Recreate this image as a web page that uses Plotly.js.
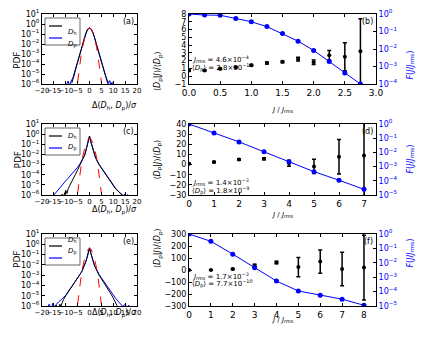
<!DOCTYPE html>
<html>
<head>
<meta charset="utf-8">
<script src="https://cdn.plot.ly/plotly-3.0.1.min.js"></script>
<style>
  html, body { margin: 0; padding: 0; background: #fff; }
  #fig { width: 424px; height: 339px; }
</style>
</head>
<body>
<div id="fig"></div>
<script>
// ---- PDF panels (a), (c), (e) ----
var gaussX = [-5, -4.5, -4, -3.5, -3, -2.5, -2, -1.5, -1, -0.5, 0, 0.5, 1, 1.5, 2, 2.5, 3, 3.5, 4, 4.5, 5];
var gaussY = [1.5e-6, 1.6e-5, 1.3e-4, 8.7e-4, 4.4e-3, 1.75e-2, 5.4e-2, 0.13, 0.242, 0.352, 0.399,
              0.352, 0.242, 0.13, 5.4e-2, 1.75e-2, 4.4e-3, 8.7e-4, 1.3e-4, 1.6e-5, 1.5e-6];

var aHx = [-7.5, -7, -6.5, -6, -5.5, -5, -4.5, -4, -3.5, -3, -2.5, -2, -1.5, -1, -0.5, 0,
           0.5, 1, 1.5, 2, 2.5, 3, 3.5, 4, 4.5, 5, 5.5, 6, 6.5, 7, 7.5, 8];
var aHy = [1.2e-6, 2.6e-6, 7e-6, 2.1e-5, 6e-5, 1.6e-4, 4.2e-4, 1.0e-3, 2.6e-3, 7e-3, 2.0e-2, 5.5e-2, 0.13, 0.24, 0.35, 0.39,
           0.35, 0.24, 0.13, 5.5e-2, 2.0e-2, 7.5e-3, 2.8e-3, 1.1e-3, 4.5e-4, 1.8e-4, 7e-5, 2.5e-5, 9e-6, 3.5e-6, 1.6e-6, 9e-7];
var aPx = [-10, -9.5, -9, -8.5, -8, -7.5, -7, -6.5, -6, -5.5, -5, -4.5, -4, -3.5, -3, -2.5, -2, -1.5, -1, -0.5, 0,
           0.5, 1, 1.5, 2, 2.5, 3, 3.5, 4, 4.5, 5, 5.5, 6, 6.5, 7, 7.5, 8, 8.5, 9, 9.5, 10];
var aPy = [6e-7, 1.3e-6, 2e-6, 7e-7, 1.6e-6, 2.5e-6, 4e-6, 9e-6, 2.4e-5, 6.5e-5, 1.7e-4, 4.4e-4, 1.05e-3, 2.7e-3, 7.2e-3, 2.0e-2, 5.5e-2, 0.13, 0.24, 0.35, 0.39,
           0.35, 0.24, 0.13, 5.5e-2, 2.0e-2, 7.6e-3, 2.9e-3, 1.15e-3, 4.7e-4, 1.9e-4, 7.5e-5, 2.8e-5, 1.1e-5, 4.5e-6, 2e-6, 1.2e-6, 2.2e-6, 8e-7, 1.5e-6, 9e-7];

var cHx = [-12, -11.5, -11, -10.5, -10, -9.5, -9, -8, -7, -6, -5, -4, -3.5, -3, -2.5, -2, -1.5, -1, -0.5, 0,
           0.5, 1, 1.5, 2, 2.5, 3, 3.5, 4, 5, 6, 7, 8, 9, 10, 11, 12, 13, 14, 15, 16, 17, 18];
var cHy = [5e-7, 1.2e-6, 6e-7, 1.5e-6, 3e-6, 1.4e-6, 4e-6, 1.2e-5, 3e-5, 1e-4, 3e-4, 9e-4, 1.5e-3, 2.5e-3, 4.5e-3, 9e-3, 2.5e-2, 7e-2, 0.2, 0.65,
           0.2, 7e-2, 2.5e-2, 9e-3, 5e-3, 2.8e-3, 1.6e-3, 1e-3, 4.5e-4, 2e-4, 9e-5, 4e-5, 1.8e-5, 8e-6, 4e-6, 2.5e-6, 1.5e-6, 8e-7, 1.2e-6, 5e-7, 1e-6, 4e-7];
var cPx = [-17.5, -17, -16.5, -16, -15, -14, -13, -12, -11, -10, -9, -8, -7, -6, -5, -4, -3, -2.5, -2, -1.5, -1, -0.5, 0,
           0.5, 1, 1.5, 2, 2.5, 3, 3.5, 4, 5, 6, 7, 8, 9, 10, 11, 12, 13, 14, 15, 16, 17, 18, 19];
var cPy = [4e-7, 1e-6, 4e-7, 5e-7, 1e-6, 2e-6, 4e-6, 7e-6, 1.4e-5, 2.5e-5, 4.5e-5, 8e-5, 1.4e-4, 2.6e-4, 5.5e-4, 1.2e-3, 3e-3, 5e-3, 9e-3, 2.5e-2, 7e-2, 0.2, 0.65,
           0.2, 7e-2, 2.5e-2, 9e-3, 5.2e-3, 3e-3, 1.7e-3, 1.1e-3, 5e-4, 2.2e-4, 1e-4, 4.5e-5, 2e-5, 9e-6, 4.5e-6, 2.5e-6, 1.5e-6, 1e-6, 6e-7, 1.1e-6, 5e-7, 8e-7, 4e-7];

var eHx = [-15, -14, -13, -12.5, -12, -11.5, -11, -10, -9, -8, -7, -6, -5, -4, -3.5, -3, -2.5, -2, -1.5, -1, -0.5, 0,
           0.5, 1, 1.5, 2, 2.5, 3, 3.5, 4, 5, 6, 7, 8, 9, 10, 11, 11.5, 12];
var eHy = [5e-7, 1.2e-6, 6e-7, 1.5e-6, 1e-6, 2.5e-6, 4e-6, 1e-5, 2.2e-5, 4.5e-5, 1e-4, 2.2e-4, 4.5e-4, 1e-3, 1.8e-3, 3e-3, 5.5e-3, 1e-2, 2.2e-2, 5.5e-2, 0.15, 0.45,
           0.15, 5.5e-2, 2.2e-2, 1e-2, 5.5e-3, 3e-3, 1.7e-3, 1e-3, 4.5e-4, 2e-4, 1e-4, 4e-5, 1.5e-5, 6e-6, 2.5e-6, 1.2e-6, 5e-7];
var ePx = [-19, -18.5, -18, -17, -16, -15.5, -15, -14, -13, -12, -11, -10, -9, -8, -7, -6, -5, -4, -3.5, -3, -2.5, -2, -1.5, -1, -0.5, 0,
           0.5, 1, 1.5, 2, 2.5, 3, 3.5, 4, 5, 6, 7, 8, 9, 10, 11, 12, 13, 14, 15, 16, 16.5, 17, 18];
var ePy = [4e-7, 1e-6, 5e-7, 1.5e-6, 6e-7, 1.8e-6, 8e-7, 1.5e-6, 2.5e-6, 4e-6, 6e-6, 1.1e-5, 2.4e-5, 5e-5, 1.05e-4, 2.3e-4, 4.7e-4, 1e-3, 1.8e-3, 3e-3, 5.5e-3, 1e-2, 2.2e-2, 5.5e-2, 0.15, 0.45,
           0.15, 5.5e-2, 2.2e-2, 1e-2, 5.6e-3, 3.2e-3, 1.9e-3, 1.2e-3, 5.5e-4, 2.7e-4, 1.3e-4, 6e-5, 2.7e-5, 1.2e-5, 5.5e-6, 2.8e-6, 1.5e-6, 9e-7, 1.5e-6, 6e-7, 1.2e-6, 5e-7, 9e-7];

// ---- conditional mean panels (b), (d), (f) ----
var jB = [0, 0.25, 0.5, 0.75, 1.0, 1.25, 1.5, 1.75, 2.0, 2.25, 2.5, 2.75];
var condB = [0.75, 0.75, 0.95, 1.15, 1.4, 1.7, 1.85, 2.2, 1.8, 2.7, 2.5, 3.2];
var condBErr = [0.08, 0.08, 0.08, 0.1, 0.1, 0.12, 0.12, 0.25, 0.3, 0.6, 1.8, 4.2];
var fracB = [1.0, 0.87, 0.85, 0.56, 0.36, 0.19, 0.076, 0.028, 0.0083, 0.0019, 0.00043, 0.0001];

var jD = [0, 1, 2, 3, 4, 5, 6, 7];
var condD = [0.8, 2.5, 5, 5.8, 1.3, -1.8, 7.6, 9];
var condDErr = [0.5, 0.6, 0.8, 1.0, 3, 7, 17, 41];
var fracD = [1.0, 0.23, 0.055, 0.011, 0.0022, 0.00044, 0.00011, 0.000025];

var jF = [0, 1, 2, 3, 4, 5, 6, 7, 8];
var condF = [0, 0, 8, 37, 62, 24, 70, 8, 20];
var condFErr = [2, 3, 5, 10, 10, 80, 97, 140, 270];
var fracF = [1.0, 0.31, 0.04, 0.0046, 0.00054, 0.00011, 0.000056, 0.00003, 0.0000112];

var notes = [
    ["4.6×10<sup>−4</sup>", "2.8×10<sup>−10</sup>"],
    ["1.4×10<sup>−3</sup>", "1.8×10<sup>−9</sup>"],
    ["1.7×10<sup>−3</sup>", "7.7×10<sup>−10</sup>"]
];

var FONT = "DejaVu Sans, sans-serif";
var W = 424, H = 339;
var LEFT = [42, 137];
var RIGHT = [189, 376];
var ROWS = [[14, 84], [124, 195], [234, 306]];

function fx(p) { return p / W; }
function fy(p) { return 1 - p / H; }

function powLabels(lo, hi) {
    var vals = [], txt = [];
    for (var e = lo; e <= hi; e++) {
        vals.push(Math.pow(10, e));
        txt.push("10<sup>" + (e < 0 ? "−" + (-e) : e) + "</sup>");
    }
    return { vals: vals, txt: txt };
}

function baseAxis(extra) {
    var ax = {
        showgrid: false,
        zeroline: false,
        showline: true,
        linecolor: "#000",
        linewidth: 1,
        ticks: "inside",
        ticklen: 3,
        tickcolor: "#000",
        tickangle: 0,
        tickfont: { family: FONT, size: 8, color: "#000" },
        fixedrange: true
    };
    for (var k in extra) ax[k] = extra[k];
    return ax;
}

function note(x, y, text, extra) {
    var a = { xref: "paper", yref: "paper", x: fx(x), y: fy(y), text: text, showarrow: false,
        font: { family: FONT, size: 8, color: "#000" } };
    for (var k in extra) a[k] = extra[k];
    return a;
}

var traces = [];
var layout = {
    width: W,
    height: H,
    margin: { l: 0, r: 0, t: 0, b: 0 },
    paper_bgcolor: "#fff",
    plot_bgcolor: "#fff",
    showlegend: false,
    font: { family: FONT, size: 8, color: "#000" },
    annotations: [],
    shapes: []
};

var pdfSets = [
    [aHx, aHy, aPx, aPy, "(a)"],
    [cHx, cHy, cPx, cPy, "(c)"],
    [eHx, eHy, ePx, ePy, "(e)"]
];
var condSets = [
    [jB, condB, condBErr, fracB, [0, 3], [-1, 8], 1, -4, "(b)", ".1f", 0.5],
    [jD, condD, condDErr, fracD, [0, 7.48], [-30, 40], 10, -5, "(d)", "d", 1],
    [jF, condF, condFErr, fracF, [0, 8.55], [-300, 300], 100, -5, "(f)", "d", 1]
];

for (var r = 0; r < 3; r++) {
    var row = ROWS[r];
    var mid = (row[0] + row[1]) / 2;
    var yDom = [fy(row[1]), fy(row[0])];
    var n = r * 3;
    var xl = "x" + (n + 1), yl = "y" + (n + 1);
    var xr = "x" + (n + 2), yr = "y" + (n + 2), yr2 = "y" + (n + 3);
    var s = pdfSets[r];

    // left: PDFs
    traces.push({ x: s[2], y: s[3], xaxis: xl, yaxis: yl, type: "scatter", mode: "lines",
        name: "D_p", line: { color: "#0000ff", width: 1 } });
    traces.push({ x: s[0], y: s[1], xaxis: xl, yaxis: yl, type: "scatter", mode: "lines",
        name: "D_h", line: { color: "#000", width: 1 } });
    traces.push({ x: gaussX, y: gaussY, xaxis: xl, yaxis: yl, type: "scatter", mode: "lines",
        name: "gauss", line: { color: "#ff0000", width: 1, dash: "dash" } });

    var pl = powLabels(-6, 1);
    layout["xaxis" + (n + 1)] = baseAxis({ domain: [fx(LEFT[0]), fx(LEFT[1])], anchor: yl,
        range: [-20, 20], tickvals: [-20, -15, -10, -5, 0, 5, 10, 15, 20], mirror: "ticks",
        tickfont: { family: FONT, size: 7, color: "#000" } });
    layout["yaxis" + (n + 1)] = baseAxis({ domain: yDom, anchor: xl, type: "log",
        range: [-6, 1], tickvals: pl.vals, ticktext: pl.txt, mirror: "ticks",
        tickfont: { family: FONT, size: 8, color: "#000" } });

    // legend box
    layout.shapes.push({ type: "rect", xref: "paper", yref: "paper",
        x0: fx(45), x1: fx(80), y0: fy(row[0] + 31), y1: fy(row[0] + 4),
        line: { color: "#000", width: 0.6 }, fillcolor: "#fff" });
    layout.shapes.push({ type: "line", xref: "paper", yref: "paper",
        x0: fx(49), x1: fx(62), y0: fy(row[0] + 12), y1: fy(row[0] + 12),
        line: { color: "#000", width: 1.2 } });
    layout.shapes.push({ type: "line", xref: "paper", yref: "paper",
        x0: fx(49), x1: fx(62), y0: fy(row[0] + 24), y1: fy(row[0] + 24),
        line: { color: "#0000ff", width: 1.2 } });
    layout.annotations.push(note(66, row[0] + 12, "<i>D</i><sub>h</sub>", { xanchor: "left", font: { family: FONT, size: 7 } }));
    layout.annotations.push(note(66, row[0] + 24, "<i>D</i><sub>p</sub>", { xanchor: "left", font: { family: FONT, size: 7 } }));

    layout.annotations.push(note(10, mid, "PDF", { textangle: -90, font: { family: FONT, size: 9 } }));
    layout.annotations.push(note((LEFT[0] + LEFT[1]) / 2, row[1] + 15,
        "Δ(<i>D</i><sub>h</sub>, <i>D</i><sub>p</sub>)/<i>σ</i>"));
    layout.annotations.push(note(LEFT[1] - 1, row[0] + 1, s[4], { xanchor: "right", yanchor: "top" }));

    // right: conditional mean + fraction
    var c = condSets[r];
    traces.push({ x: c[0], y: c[3], xaxis: xr, yaxis: yr2, type: "scatter", mode: "lines+markers",
        name: "F", line: { color: "#0000ff", width: 1 },
        marker: { color: "#0000ff", size: 5 } });
    traces.push({ x: c[0], y: c[1], xaxis: xr, yaxis: yr, type: "scatter", mode: "markers",
        name: "cond", marker: { color: "#000", size: 4 },
        error_y: { type: "data", array: c[2], color: "#000", thickness: 1.5, width: 2 } });

    var fl = powLabels(c[7], 0);
    layout["xaxis" + (n + 2)] = baseAxis({ domain: [fx(RIGHT[0]), fx(RIGHT[1])], anchor: yr,
        range: c[4], dtick: c[10], tick0: 0, tickformat: c[9], mirror: "ticks",
        tickfont: { family: FONT, size: 9, color: "#000" } });
    layout["yaxis" + (n + 2)] = baseAxis({ domain: yDom, anchor: xr, range: c[5], dtick: c[6],
        tick0: 0, tickfont: { family: FONT, size: 8, color: "#000" } });
    layout["yaxis" + (n + 3)] = baseAxis({ overlaying: yr, anchor: xr, side: "right", type: "log",
        range: [c[7], 0], tickvals: fl.vals, ticktext: fl.txt,
        tickfont: { family: FONT, size: 8, color: "#0000ff" } });

    layout.annotations.push(note(158, mid, "⟨<i>D</i><sub>p</sub>|<i>J</i>⟩/⟨<i>D</i><sub>p</sub>⟩",
        { textangle: -90 }));
    layout.annotations.push(note(417, mid, "<i>F</i>(<i>J</i>/<i>J</i><sub>rms</sub>)",
        { textangle: -90, font: { family: FONT, size: 8, color: "#0000ff" } }));
    layout.annotations.push(note((RIGHT[0] + RIGHT[1]) / 2, row[1] + 20,
        "<i>J</i> / <i>J</i><sub>rms</sub>", { font: { family: FONT, size: 7 } }));
    layout.annotations.push(note(RIGHT[1] - 1, row[0] + 1, c[8], { xanchor: "right", yanchor: "top" }));

    var ny = r == 0 ? 52 : (r == 1 ? 182 : 283);
    layout.annotations.push(note(190, ny, "<i>J</i><sub>rms</sub> = " + notes[r][0],
        { xanchor: "left", font: { family: FONT, size: 7 } }));
    layout.annotations.push(note(190, ny + 8, "⟨<i>D</i><sub>p</sub>⟩ = " + notes[r][1],
        { xanchor: "left", font: { family: FONT, size: 7 } }));
}

Plotly.newPlot("fig", traces, layout, { staticPlot: true, displayModeBar: false });
</script>
</body>
</html>
